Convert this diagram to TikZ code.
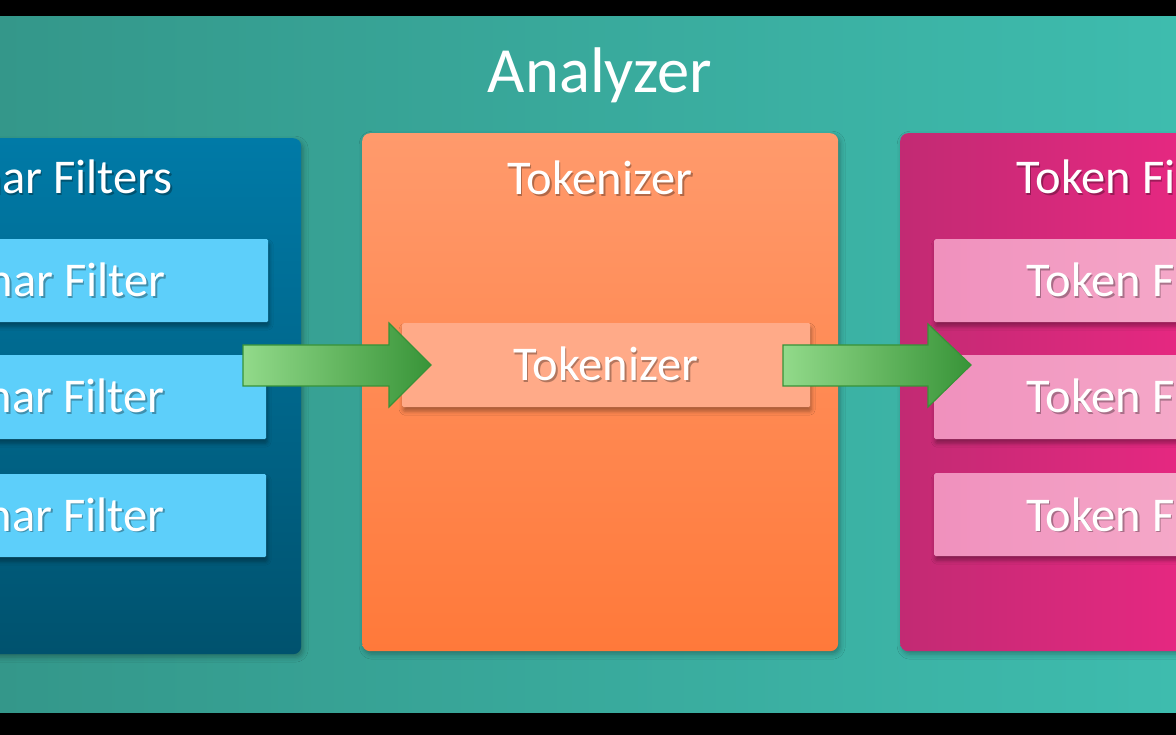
\documentclass[tikz,border=0pt]{standalone}
\usepackage{fontspec}
\setmainfont{Carlito}
\usetikzlibrary{shadows.blur,calc}
\definecolor{bgL}{RGB}{52,151,138}
\definecolor{bgR}{RGB}{62,188,174}
\definecolor{blueT}{RGB}{0,122,167}
\definecolor{blueB}{RGB}{0,82,110}
\definecolor{cfbox}{RGB}{93,207,250}
\definecolor{orT}{RGB}{255,154,108}
\definecolor{orB}{RGB}{255,121,58}
\definecolor{tokbox}{RGB}{255,170,136}
\definecolor{pkL}{RGB}{194,42,115}
\definecolor{pkR}{RGB}{232,40,130}
\definecolor{tfL}{RGB}{240,144,189}
\definecolor{tfR}{RGB}{245,170,201}
\definecolor{arL}{RGB}{146,218,138}
\definecolor{arM}{RGB}{132,206,122}
\definecolor{arR}{RGB}{56,148,56}
\definecolor{arD}{RGB}{56,146,56}
\tikzset{
  panel/.style={rounded corners=8pt, inner sep=0pt, anchor=north west,
    blur shadow={shadow xshift=2pt, shadow yshift=-3pt, shadow opacity=30, shadow blur radius=5pt}},
  innerbox/.style={rounded corners=1.5pt, inner sep=0pt, anchor=north west,
    blur shadow={shadow xshift=1pt, shadow yshift=-4pt, shadow opacity=35, shadow blur radius=4pt}},
  lbl/.style={text=white, inner sep=0pt, font=\fontsize{48.5}{56}\selectfont},
  lblsh/.style={text=black, opacity=0.3, inner sep=0pt, font=\fontsize{48.5}{56}\selectfont},
  bigl/.style={text=white, inner sep=0pt, font=\fontsize{64.5}{74}\selectfont},
  blockarrow/.style={left color=arL, middle color=arM, right color=arR, draw=arD, line width=1.2pt, line join=miter},
}
\newcommand\shlabel[4]{%
  \node[lblsh, anchor=#2] at ($#3+(1.5,1.8)$) {#4};
  \node[lbl, anchor=#2] (#1) at #3 {#4};}
\begin{document}
\begin{tikzpicture}[x=1pt,y=-1pt]
\useasboundingbox (0,0) rectangle (1176,735);
\clip (0,0) rectangle (1176,735);
% background
\fill[left color=bgL, right color=bgR] (0,0) rectangle (1176,735);
\fill[black] (0,0) rectangle (1176,16);
\fill[black] (0,713) rectangle (1176,735);
% title
\node[bigl, anchor=base] (analyzer) at (600,93) {Analyzer};
% panels
\node[panel, top color=blueT, bottom color=blueB, minimum width=321pt, minimum height=516pt] (charpanel) at (-20,138) {};
\node[panel, top color=orT, bottom color=orB, minimum width=476pt, minimum height=518pt] (tokpanel) at (362,133) {};
\node[panel, left color=pkL, right color=pkR, minimum width=300pt, minimum height=518pt] (tfpanel) at (900,133) {};
% char filter boxes
\node[innerbox, fill=cfbox, minimum width=288pt, minimum height=83pt] (cf1) at (-20,239) {};
\node[innerbox, fill=cfbox, minimum width=286pt, minimum height=84pt] (cf2) at (-20,355) {};
\node[innerbox, fill=cfbox, minimum width=286pt, minimum height=83pt] (cf3) at (-20,474) {};
% tokenizer box
\node[innerbox, fill=tokbox, minimum width=408pt, minimum height=84pt] (tok) at (402,323) {};
% token filter boxes
\node[innerbox, left color=tfL, right color=tfR, minimum width=260pt, minimum height=83pt] (tf1) at (934,239) {};
\node[innerbox, left color=tfL, right color=tfR, minimum width=260pt, minimum height=84pt] (tf2) at (934,355) {};
\node[innerbox, left color=tfL, right color=tfR, minimum width=260pt, minimum height=83pt] (tf3) at (934,473) {};
% arrows
\coordinate (a1) at (243,365);
\coordinate (a2) at (783,365);
\path[blockarrow] (a1) ++(0,-20) -- ++(146,0) -- ++(0,-22) -- (431,365) -- (389,407) -- (389,386) -- (243,386) -- cycle;
\path[blockarrow] (a2) ++(0,-20) -- ++(145,0) -- ++(0,-21) -- (971,365) -- (928,407) -- (928,386) -- (783,386) -- cycle;
% labels
\shlabel{cft}{base east}{(173,194)}{Char Filters}
\shlabel{cf1t}{base east}{(166,297)}{Char Filter}
\shlabel{cf2t}{base east}{(165,413)}{Char Filter}
\shlabel{cf3t}{base east}{(165,531)}{Char Filter}
\shlabel{tokt}{base}{(600,195)}{Tokenizer}
\shlabel{toki}{base}{(606,381)}{Tokenizer}
\shlabel{tft}{base west}{(1016,194)}{Token Filters}
\shlabel{tf1t}{base west}{(1026,297)}{Token Filter}
\shlabel{tf2t}{base west}{(1026,413)}{Token Filter}
\shlabel{tf3t}{base west}{(1026,531)}{Token Filter}
\end{tikzpicture}
\end{document}
